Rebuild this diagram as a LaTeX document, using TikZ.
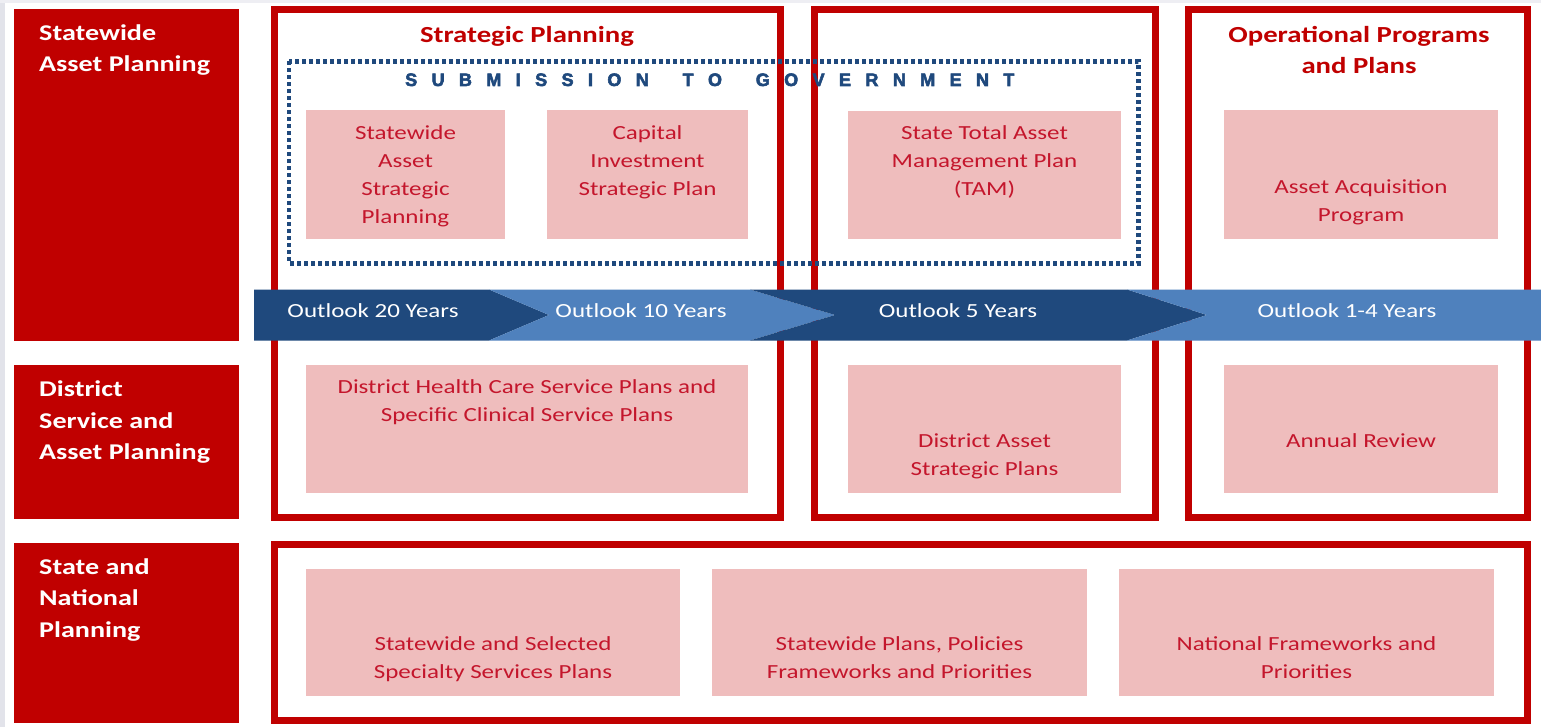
\documentclass[tikz,border=0pt]{standalone}
\usepackage{fontspec}
\setmainfont{Carlito}[FakeStretch=1.25]
\newfontfamily\banner{Liberation Sans}[BoldFeatures={FakeBold=3}]
\begin{document}
\definecolor{tierred}{RGB}{192,0,0}
\definecolor{boxpink}{RGB}{239,189,189}
\definecolor{pinkink}{RGB}{196,22,44}
\definecolor{navy}{RGB}{31,73,125}
\definecolor{steel}{RGB}{79,129,189}
\definecolor{edgegray}{RGB}{226,227,234}
\newcommand{\ls}{\hspace{14.4pt}}
\begin{tikzpicture}[x=1pt,y=-1pt,
  tierbox/.style={fill=tierred, draw=none, inner sep=0pt, outer sep=0pt},
  tierlabel/.style={text=white, font=\bfseries\fontsize{22.5}{31.5}\selectfont, align=left, anchor=base west, inner sep=0pt},
  frame/.style={draw=tierred, line width=7pt},
  itembox/.style={fill=boxpink, draw=none, inner sep=0pt, outer sep=0pt},
  itemtext/.style={text=pinkink, font=\fontsize{20}{28}\selectfont, align=center, anchor=base, inner sep=0pt},
  heading/.style={text=tierred, font=\bfseries\fontsize{23}{31}\selectfont, align=center, anchor=base, inner sep=0pt},
  bartext/.style={text=white, font=\fontsize{20}{24}\selectfont, anchor=base, inner sep=0pt},
  submission/.style={draw=navy, line width=4.5pt, dash pattern=on 4pt off 3pt}
]
\useasboundingbox (0,0) rectangle (1541,727);
% page edge
\fill[white] (0,0) rectangle (1541,727);
\fill[edgegray] (0,0) rectangle (5,727);
\fill[edgegray!60] (0,0) rectangle (1541,3.5);

% tier labels on the left (a multi-line label sits on its last baseline)
\node[tierbox, minimum width=225pt, minimum height=331.4pt] (tier1) at (126.5,175) {};
\node[tierbox, minimum width=225pt, minimum height=154pt] (tier2) at (126.5,442) {};
\node[tierbox, minimum width=225pt, minimum height=180pt] (tier3) at (126.5,633) {};
\node[tierlabel] (tier1t) at (39,71.7) {Statewide\\Asset Planning};
\node[tierlabel] (tier2t) at (39,459.7) {District\\Service and\\Asset Planning};
\node[tierlabel] (tier3t) at (39,637) {State and\\National\\Planning};

% column frames
\draw[frame] (274.5,10) rectangle (780.5,517.5);
\draw[frame] (814.5,10) rectangle (1155,517.5);
\draw[frame] (1188.5,10) rectangle (1527.5,517.5);
\draw[frame] (274.5,544.5) rectangle (1527.5,720.5);

% headings
\node[heading] (hstrat) at (527,42.5) {Strategic Planning};
\node[heading] (hops) at (1359,73.5) {Operational Programs\\and Plans};

% item boxes
\node[itembox, minimum width=199pt, minimum height=129pt] (sasp) at (405.5,174.5) {};
\node[itembox, minimum width=201pt, minimum height=129pt] (cisp) at (647.5,174.5) {};
\node[itembox, minimum width=273pt, minimum height=128pt] (tam) at (984.5,175) {};
\node[itembox, minimum width=274pt, minimum height=129pt] (aap) at (1361,174.5) {};
\node[itembox, minimum width=442pt, minimum height=128pt] (dhc) at (527,429) {};
\node[itembox, minimum width=273pt, minimum height=128pt] (dasp) at (984.5,429) {};
\node[itembox, minimum width=274pt, minimum height=128pt] (review) at (1361,429) {};
\node[itembox, minimum width=374pt, minimum height=127pt] (sssp) at (493,632.5) {};
\node[itembox, minimum width=375pt, minimum height=127pt] (sppf) at (899.5,632.5) {};
\node[itembox, minimum width=375pt, minimum height=127pt] (nfp) at (1306.5,632.5) {};

\node[itemtext] (sasp-t) at (405.5,223.3) {Statewide\\Asset\\Strategic\\Planning};
\node[itemtext] (cisp-t) at (647.5,195.3) {Capital\\Investment\\Strategic Plan};
\node[itemtext] (tam-t) at (984.5,195.3) {State Total Asset\\Management Plan\\(TAM)};
\node[itemtext] (aap-t) at (1361,221.5) {Asset Acquisition\\Program};
\node[itemtext] (dhc-t) at (527,421.7) {District Health Care Service Plans and\\Specific Clinical Service Plans};
\node[itemtext] (dasp-t) at (984.5,475) {District Asset\\Strategic Plans};
\node[itemtext] (review-t) at (1361,447) {Annual Review};
\node[itemtext] (sssp-t) at (493,678.3) {Statewide and Selected\\Specialty Services Plans};
\node[itemtext] (sppf-t) at (899.5,678.3) {Statewide Plans, Policies\\Frameworks and Priorities};
\node[itemtext] (nfp-t) at (1306.5,678.3) {National Frameworks and\\Priorities};

% submission boundary
\draw[submission] (289,61.5) rectangle (1138.5,263.5);
\node[text=navy, font=\banner\bfseries\fontsize{18}{20}\selectfont, anchor=base west, inner sep=0pt] (subm) at (405,86)
  {S\ls U\ls B\ls M\ls I\ls S\ls S\ls I\ls O\ls N\ls\ \ls T\ls O\ls\ \ls G\ls O\ls V\ls E\ls R\ls N\ls M\ls E\ls N\ls T};

% outlook timeline
\fill[navy] (254,289.5) -- (489,289.5) -- (549,315) -- (489,340.5) -- (254,340.5) -- cycle;
\fill[steel] (489,289.5) -- (750,289.5) -- (835,315) -- (750,340.5) -- (489,340.5) -- (549,315) -- cycle;
\fill[navy] (750,289.5) -- (1127,289.5) -- (1207,315) -- (1127,340.5) -- (750,340.5) -- (835,315) -- cycle;
\fill[steel] (1127,289.5) -- (1541,289.5) -- (1541,340.5) -- (1127,340.5) -- (1207,315) -- cycle;
\node[bartext] (o20) at (373,317) {Outlook 20 Years};
\node[bartext] (o10) at (641,317) {Outlook 10 Years};
\node[bartext] (o5) at (958,317) {Outlook 5 Years};
\node[bartext] (o14) at (1347,317) {Outlook 1-4 Years};
\end{tikzpicture}
\end{document}
